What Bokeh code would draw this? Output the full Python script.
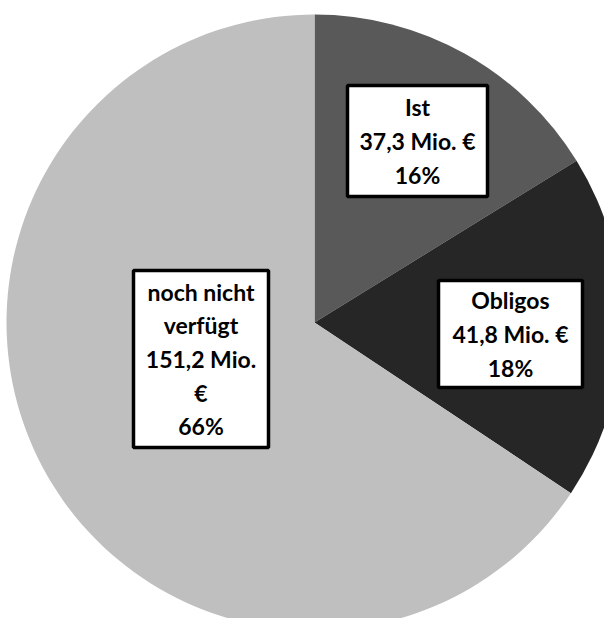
import numpy as np
from bokeh.plotting import figure
from bokeh.models import Range1d, ColumnDataSource
from bokeh.core.properties import value
from bokeh.embed import file_html
from bokeh.resources import INLINE

# ---- data ----
categories = ["Ist", "Obligos", "noch nicht verfügt"]
amounts = [37.3, 41.8, 151.2]          # Mio. €
label_texts = ["Ist\n37,3 Mio. €\n16%",
               "Obligos\n41,8 Mio. €\n18%",
               "noch nicht\nverfügt\n151,2 Mio.\n€\n66%"]
colors = ["#595959", "#262626", "#BFBFBF"]

# ---- layout constants (pixels, y measured upward from bottom of a 626 tall picture) ----
W, H = 604, 618
CX, CY, R = 314, 304, 308
box_x = [417, 510, 200.5]
box_y = [485.5, 292.5, 267.5]
box_w = [140, 144, 135]
box_h = [111, 107, 177]

vals = np.array(amounts)
frac = vals / vals.sum()
cum = np.concatenate([[0], np.cumsum(frac)])
start = np.pi / 2 - 2 * np.pi * cum[1:]
end = np.pi / 2 - 2 * np.pi * cum[:-1]

src = ColumnDataSource(dict(cat=categories, start=start, end=end, color=colors))

p = figure(width=W, height=H, output_backend="svg", toolbar_location=None,
           x_range=Range1d(0, W), y_range=Range1d(626 - H, 626),
           min_border=0, outline_line_color=None)
p.axis.visible = False
p.grid.visible = False
p.background_fill_color = "white"
p.border_fill_color = "white"

p.wedge(x=CX, y=CY, radius=R, start_angle="start", end_angle="end",
        fill_color="color", line_color=None, source=src)

lab = ColumnDataSource(dict(x=box_x, y=box_y, w=box_w, h=box_h, text=label_texts))
p.rect(x="x", y="y", width="w", height="h", fill_color="white",
       line_color="black", line_width=3.5, source=lab)
p.text(x="x", y="y", text="text", source=lab, text_align="center",
       text_baseline="middle", text_font=value("Lato"), text_font_style="bold",
       text_font_size="23px", text_line_height=1.2, text_color="black")

open("out.html", "w").write(file_html(p, INLINE))
